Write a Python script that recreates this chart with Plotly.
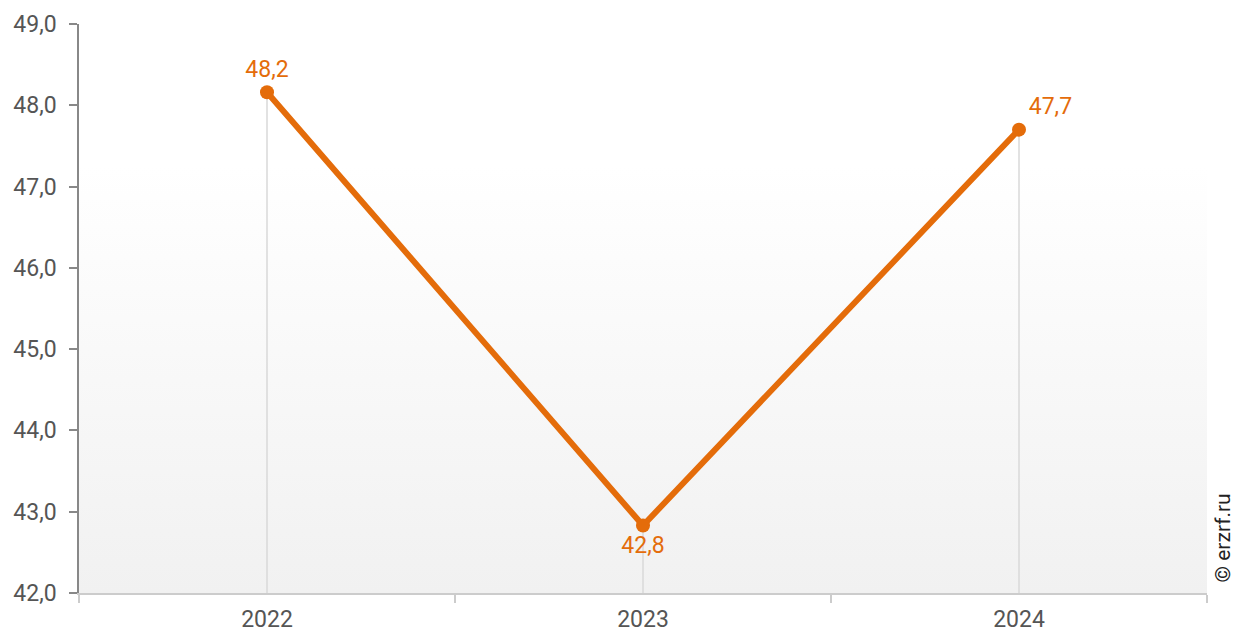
import plotly.graph_objects as go

years = [2022, 2023, 2024]
values = [48.16, 42.83, 47.7]
y_ticks = [42, 43, 44, 45, 46, 47, 48, 49]
label_positions = ["top center", "bottom center", "top right"]

orange = "#E46C0A"
y_min, y_max = 42, 49
x_min, x_max = years[0] - 0.5, years[-1] + 0.5
FS = 23

fig = go.Figure()

# gradient background
fig.add_trace(go.Scatter(
    x=[x_min, x_max, x_max, x_min, x_min],
    y=[y_min, y_min, y_max, y_max, y_min],
    mode="lines", line=dict(width=0), fill="toself",
    fillgradient=dict(type="vertical", start=y_min, stop=y_max,
                      colorscale=[[0, "#f1f1f1"], [0.75, "#ffffff"], [1, "#ffffff"]]),
    hoverinfo="skip", showlegend=False,
))

# drop lines
dx, dy = [], []
for yr, v in zip(years, values):
    dx += [yr, yr, None]
    dy += [y_min, v, None]
fig.add_trace(go.Scatter(x=dx, y=dy, mode="lines",
                         line=dict(color="#d9d9d9", width=1.5),
                         hoverinfo="skip", showlegend=False))

fig.add_trace(go.Scatter(
    x=years, y=values, mode="lines+markers+text",
    line=dict(color=orange, width=6),
    marker=dict(color=orange, size=14),
    texttemplate="%{y:.1f}", textposition=label_positions,
    textfont=dict(color=orange, size=FS, family="Roboto"),
    showlegend=False,
))

fig.update_layout(
    width=1235, height=633,
    margin=dict(l=79, r=28, t=24, b=40),
    paper_bgcolor="white", plot_bgcolor="white",
    separators=", ",
    font=dict(family="Roboto", size=FS, color="#555555"),
    showlegend=False,
)
fig.update_xaxes(
    range=[x_min, x_max], tickmode="array", tickvals=years,
    ticktext=[str(y) for y in years], automargin=False,
    ticks="outside", ticklen=5, tickcolor="rgba(0,0,0,0)",
    showgrid=False, zeroline=False,
    showline=True, linecolor="#cccccc", linewidth=1.5,
    minor=dict(tickmode="array", tickvals=[x_min + i for i in range(len(years) + 1)],
               ticks="outside", ticklen=8, tickcolor="#cccccc", tickwidth=1.5, showgrid=False),
    tickfont=dict(size=FS, color="#555555"),
)
fig.update_yaxes(
    range=[y_min, y_max], tickmode="array", tickvals=y_ticks, tickformat=".1f",
    ticks="outside", ticklen=8, tickcolor="#888888", tickwidth=1.5,
    showgrid=False, zeroline=False, automargin=False,
    showline=True, linecolor="#888888", linewidth=1.5,
    tickfont=dict(size=FS, color="#555555"),
    ticklabelstandoff=8,
)
fig.add_annotation(
    text="© erzrf.ru", textangle=-90, xref="paper", yref="paper",
    x=1.0, xshift=15, y=0, yshift=8, xanchor="center", yanchor="bottom",
    showarrow=False, font=dict(size=21, color="#222222", family="Roboto"),
)

fig.write_html(
    "out.html",
    config={"displayModeBar": False},
    post_script="document.body.style.margin='0';document.body.style.overflow='hidden';"
                "document.documentElement.style.overflow='hidden';",
)
